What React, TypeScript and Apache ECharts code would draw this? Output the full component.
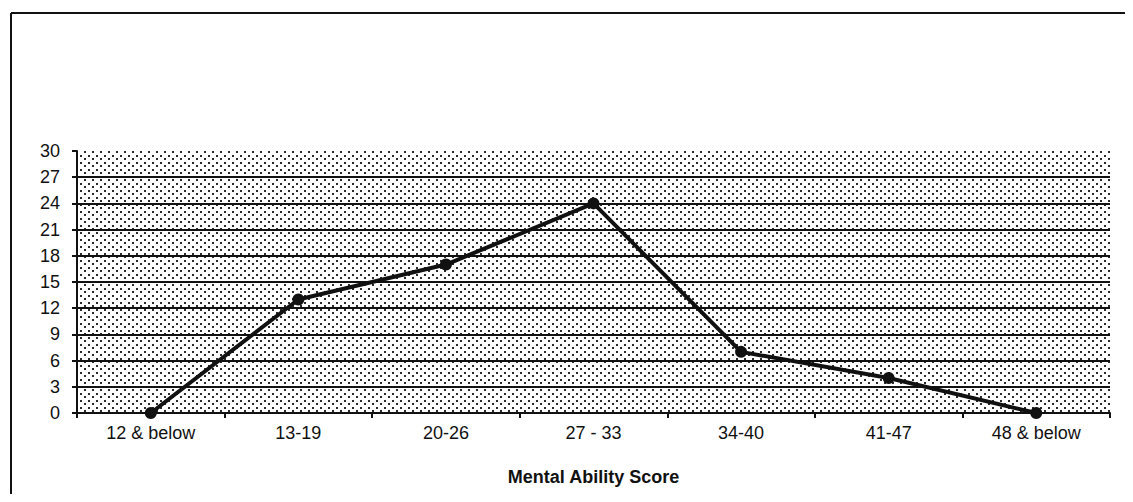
import React, { useEffect, useRef } from "react";
import * as echarts from "echarts";

const categories = ["12 & below", "13-19", "20-26", "27 - 33", "34-40", "41-47", "48 & below"];
const counts = [0, 13, 17, 24, 7, 4, 0];
const xAxisTitle = "Mental Ability Score";
const gridLineValues = [3, 6, 9, 12, 15, 18, 21, 24, 27];

function makePattern(): HTMLCanvasElement {
  const c = document.createElement("canvas");
  c.width = 8;
  c.height = 7;
  const ctx = c.getContext("2d")!;
  ctx.fillStyle = "#ffffff";
  ctx.fillRect(0, 0, 8, 7);
  ctx.fillStyle = "#2a2a2a";
  ctx.fillRect(0, 0, 2, 2);
  ctx.fillRect(4, 3, 2, 2);
  return c;
}

export default function App() {
  const ref = useRef<HTMLDivElement>(null);
  useEffect(() => {
    if (!ref.current) return;
    const chart = echarts.init(ref.current, undefined, { renderer: "svg" });
    const pattern = makePattern();
    chart.setOption({
      animation: false,
      backgroundColor: "#ffffff",
      textStyle: { fontFamily: "Liberation Sans, Arial, sans-serif" },
      graphic: [
        { type: "line", shape: { x1: 3, y1: 5, x2: 1133, y2: 5 }, style: { stroke: "#111", lineWidth: 2 } },
        { type: "line", shape: { x1: 3, y1: 5, x2: 3, y2: 502 }, style: { stroke: "#111", lineWidth: 2 } },
      ],
      grid: {
        left: 69,
        right: 15,
        top: 143,
        bottom: 81,
        show: true,
        backgroundColor: { image: pattern, repeat: "repeat" } as any,
        borderWidth: 0,
      },
      xAxis: {
        type: "category",
        data: categories,
        boundaryGap: true,
        name: xAxisTitle,
        nameLocation: "middle",
        nameGap: 55,
        nameTextStyle: { fontWeight: "bold", fontSize: 18, color: "#111" },
        axisLine: { lineStyle: { color: "#111", width: 2 } },
        axisTick: { show: true, length: 5, lineStyle: { color: "#111", width: 2 } },
        axisLabel: { fontSize: 18, color: "#111", margin: 11 },
      },
      yAxis: {
        type: "value",
        min: 0,
        max: 30,
        interval: 3,
        axisLine: { show: true, lineStyle: { color: "#111", width: 2 } },
        axisTick: { show: true, length: 5, lineStyle: { color: "#111", width: 2 } },
        axisLabel: { fontSize: 18, color: "#111", margin: 17 },
        splitLine: { show: false },
      },
      series: [
        {
          type: "line",
          data: counts,
          symbol: "circle",
          symbolSize: 12,
          itemStyle: { color: "#111" },
          lineStyle: { color: "#111", width: 4 },
          z: 5,
          markLine: {
            silent: true,
            symbol: "none",
            label: { show: false },
            lineStyle: { color: "#111", width: 2, type: "solid" },
            data: gridLineValues.map((v) => ({ yAxis: v })),
            z: 1,
          },
        },
      ],
    });
    return () => chart.dispose();
  }, []);
  return <div ref={ref} style={{ width: 1117, height: 486 }} />;
}
